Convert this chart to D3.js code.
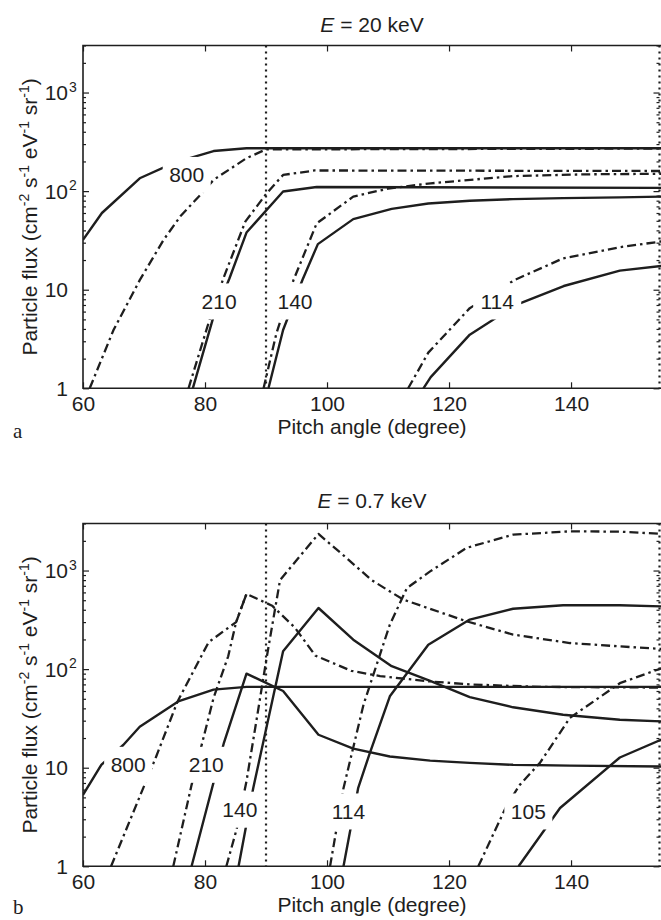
<!DOCTYPE html>
<html>
<head>
<meta charset="utf-8">
<script src="https://cdn.jsdelivr.net/npm/d3@7"></script>
<style>
  body { margin: 0; background: #fff; }
  svg { display: block; font-family: "Liberation Sans", Arial, Helvetica, sans-serif; }
</style>
</head>
<body>
<div id="chart"></div>
<script>
// axis ticks
var angleTicks = [60, 80, 100, 120, 140];
var fluxTicks = [1, 10, 100, 1000];

// panel a (E = 20 keV), points are [pitch angle, flux]
var a800Solid = [[60, 32], [63.1, 60], [69.3, 135], [75, 195], [81.4, 255], [86.8, 272], [155, 272]];
var a800Dash = [[61.1, 1], [65, 3.9], [69.3, 12.5], [73.2, 32], [76, 56], [79.2, 91], [81.4, 130], [86.8, 216], [90, 265], [155, 270]];
var a210Solid = [[78, 1], [81.3, 5.1], [84, 13], [86.8, 38], [92.8, 99], [98.3, 110], [155, 108]];
var a210Dash = [[77.3, 1], [80.8, 5.1], [83, 13], [86.6, 49], [90.1, 95], [92.8, 146], [98, 162], [155, 160]];
var a140Solid = [[90.4, 1], [92.8, 3.9], [96, 12.7], [98.5, 29], [104.3, 52], [110.6, 66], [116.6, 75], [123.4, 80], [130.5, 83], [138.7, 85], [148, 86.5], [155, 88]];
var a140Dash = [[89.6, 1], [91.7, 3.6], [94.5, 12.5], [98.3, 47], [104.3, 88], [110, 106], [117, 120], [130.5, 142], [142, 148], [155, 150]];
var a114Solid = [[115.8, 1], [117, 1.3], [123.4, 3.5], [131, 7], [138.8, 10.9], [148, 15.6], [155, 17.5]];
var a114Dash = [[113.3, 1], [116.6, 2.3], [123.4, 6.5], [130.8, 12.6], [138.7, 20.8], [148, 27], [155, 31]];
var aLabels = [["800", 77.0, 146], ["210", 82.3, 7.6], ["140", 94.75, 7.6], ["114", 127.9, 7.6]];

// panel b (E = 0.7 keV)
var b800Solid = [[60, 5.3], [63, 10.7], [66.6, 17], [69.3, 26], [75.6, 47], [81.4, 62], [86.8, 66], [155, 66]];
var b800Dash = [[64.6, 1], [72, 13], [75.5, 47], [80.6, 188], [85.1, 300], [86.8, 580], [91, 440], [94.7, 265], [98.1, 137], [104, 96], [108.7, 85], [116.9, 75], [123.4, 70], [135, 66], [155, 65]];
var b210Solid = [[77.8, 1], [83.1, 17.9], [86.8, 90], [92.8, 60], [98.6, 21.6], [104.3, 15.6], [110.3, 13], [116.9, 11.8], [123.4, 11.2], [130.5, 10.7], [139.8, 10.5], [155, 10.3]];
var b210Dash = [[74.8, 1], [77.8, 6.7], [81.4, 51], [83.8, 135], [85.1, 300], [86.8, 580]];
var b140Solid = [[85.5, 1], [87.9, 6.2], [92.8, 152], [98.6, 417], [104.3, 199], [110.6, 107], [116.9, 76], [123.4, 52], [130.5, 41], [138.7, 34.5], [148, 30.7], [155, 29.5]];
var b140Dash = [[83.5, 1], [85.2, 2.4], [86.8, 7.3], [88.5, 32], [90.1, 130], [92.3, 800], [98.6, 2350], [103.2, 1340], [107.3, 800], [112.5, 507], [122.9, 305], [130.5, 224], [139.8, 184], [148, 170], [155, 160]];
var b114Solid = [[102.7, 1], [105.1, 6.2], [107, 14], [110.3, 53], [116.6, 177], [123.4, 318], [130.5, 410], [138.7, 444], [148, 444], [155, 433]];
var b114Dash = [[100.5, 1], [102.7, 6.2], [106, 44], [107.6, 88], [110.3, 283], [113.1, 665], [116.9, 980], [122.9, 1700], [130.5, 2310], [139.8, 2500], [148, 2480], [155, 2350]];
var b105Solid = [[131.4, 1], [138.2, 3.9], [148, 12.7], [155, 19.5]];
var b105Dash = [[124.8, 1], [129.5, 4.2], [131.6, 6.7], [134.9, 11.2], [139.8, 32], [148, 72], [155, 103]];
var bLabels = [["800", 67.4, 10.7], ["210", 80.2, 10.7], ["140", 85.7, 3.75], ["114", 103.5, 3.6], ["105", 133.0, 3.6]];

var ink = "#1e1e1e";
var width = 661, height = 920;

var svg = d3.select("#chart").append("svg")
    .attr("width", width)
    .attr("height", height);

var x = d3.scaleLinear().domain([60, 154.5]).range([83, 659.5]);

function drawPanel(p) {
  var y = d3.scaleLog().domain([1, 3000]).range([p.bottom, p.top]);
  var g = svg.append("g");
  var clipId = "clip" + p.tag;

  g.append("clipPath").attr("id", clipId)
    .append("rect")
      .attr("x", x.range()[0]).attr("y", p.top)
      .attr("width", width - x.range()[0]).attr("height", p.bottom - p.top);

  var line = d3.line()
      .x(function(d) { return x(d[0]); })
      .y(function(d) { return y(d[1]); });

  var plot = g.append("g").attr("clip-path", "url(#" + clipId + ")");

  // curves
  plot.selectAll("path.curve")
      .data(p.series)
    .enter().append("path")
      .attr("class", "curve")
      .attr("d", function(d) { return line(d.pts); })
      .attr("fill", "none")
      .attr("stroke", ink)
      .attr("stroke-width", function(d) { return d.dash ? 2.3 : 2.4; })
      .attr("stroke-linejoin", "round")
      .attr("stroke-dasharray", function(d) { return d.dash ? "9,4,2.5,4" : null; });

  // dotted reference lines (90 deg and right edge)
  plot.selectAll("line.ref")
      .data([90, 154.5])
    .enter().append("line")
      .attr("class", "ref")
      .attr("x1", function(d) { return x(d); }).attr("x2", function(d) { return x(d); })
      .attr("y1", p.top).attr("y2", p.bottom)
      .attr("stroke", ink)
      .attr("stroke-width", 2.2)
      .attr("stroke-dasharray", "2,4");

  // curve labels, white box breaks the lines
  var lab = plot.selectAll("g.lab")
      .data(p.labels)
    .enter().append("g")
      .attr("class", "lab")
      .attr("transform", function(d) { return "translate(" + x(d[1]) + "," + y(d[2]) + ")"; });
  lab.append("rect")
      .attr("x", -24).attr("y", -18)
      .attr("width", 48).attr("height", 36)
      .attr("fill", "#fff");
  lab.append("text")
      .attr("text-anchor", "middle")
      .attr("dy", "0.36em")
      .style("font-size", "21px")
      .attr("fill", ink)
      .text(function(d) { return d[0]; });

  // axes
  var minor = [];
  [1, 10, 100, 1000].forEach(function(b) {
    for (var k = 2; k <= 9; k++) if (b * k <= 3000) minor.push(b * k);
  });

  g.append("g")
      .attr("transform", "translate(0," + p.bottom + ")")
      .call(d3.axisBottom(x).tickValues(angleTicks).tickSizeInner(-6).tickSizeOuter(0).tickPadding(8))
      .call(function(a) {
        a.select(".domain").remove();
        a.selectAll("text").style("font-size", "21px").attr("fill", ink);
      });
  g.append("g")
      .attr("transform", "translate(0," + p.top + ")")
      .call(d3.axisTop(x).tickValues(angleTicks).tickSizeInner(-6).tickSizeOuter(0).tickFormat(""))
      .call(function(a) { a.select(".domain").remove(); });

  g.append("g")
      .attr("transform", "translate(" + x.range()[0] + ",0)")
      .call(d3.axisLeft(y).tickValues(fluxTicks).tickSizeInner(-6).tickSizeOuter(0).tickFormat(""))
      .call(function(a) { a.select(".domain").remove(); });
  g.append("g")
      .attr("transform", "translate(" + x.range()[0] + ",0)")
      .call(d3.axisLeft(y).tickValues(minor).tickSizeInner(-3).tickSizeOuter(0).tickFormat(""))
      .call(function(a) { a.select(".domain").remove(); });
  g.append("g")
      .attr("transform", "translate(" + x.range()[1] + ",0)")
      .call(d3.axisRight(y).tickValues(fluxTicks).tickSizeInner(-6).tickSizeOuter(0).tickFormat(""))
      .call(function(a) { a.select(".domain").remove(); });
  g.append("g")
      .attr("transform", "translate(" + x.range()[1] + ",0)")
      .call(d3.axisRight(y).tickValues(minor).tickSizeInner(-3).tickSizeOuter(0).tickFormat(""))
      .call(function(a) { a.select(".domain").remove(); });
  g.selectAll(".tick line").attr("stroke", ink).attr("stroke-width", 1.2);

  // frame: left, top, bottom
  g.append("path")
      .attr("d", "M" + width + "," + p.top + "H" + x.range()[0] + "V" + p.bottom + "H" + width)
      .attr("fill", "none")
      .attr("stroke", ink)
      .attr("stroke-width", 1.6);

  // y tick labels: 1, 10, 10^2, 10^3
  var yl = g.selectAll("g.ylab")
      .data(fluxTicks)
    .enter().append("g")
      .attr("class", "ylab")
      .attr("transform", function(d) { return "translate(68," + y(d) + ")"; });
  yl.append("text")
      .attr("text-anchor", "end")
      .attr("dy", "0.36em")
      .style("font-size", "21px")
      .attr("fill", ink)
      .text(function(d) { return d < 100 ? String(d) : "10"; });
  yl.filter(function(d) { return d >= 100; }).append("text")
      .attr("x", 1)
      .attr("y", -1)
      .style("font-size", "14px")
      .attr("fill", ink)
      .text(function(d) { return String(Math.round(Math.log10(d))); });

  // titles
  var cx = (x.range()[0] + width) / 2;
  var t = g.append("text")
      .attr("x", cx).attr("y", p.titleY)
      .attr("text-anchor", "middle")
      .style("font-size", "21px")
      .attr("fill", ink);
  t.append("tspan").style("font-style", "italic").text("E");
  t.append("tspan").text(" = " + p.energy + " keV");

  g.append("text")
      .attr("x", cx).attr("y", p.xTitleY)
      .attr("text-anchor", "middle")
      .style("font-size", "21px")
      .attr("fill", ink)
      .text("Pitch angle (degree)");

  var yt = g.append("text")
      .attr("transform", "translate(37," + (p.top + p.bottom) / 2 + ") rotate(-90)")
      .attr("text-anchor", "middle")
      .style("font-size", "21px")
      .attr("fill", ink);
  [["Particle flux (cm", ""], ["-2", "sup"], [" s", ""], ["-1", "sup"], [" eV", ""], ["-1", "sup"], [" sr", ""], ["-1", "sup"], [")", ""]]
    .forEach(function(s, i, arr) {
      var ts = yt.append("tspan").text(s[0]);
      if (s[1] === "sup") ts.style("font-size", "14px").attr("dy", -8);
      else if (i > 0 && arr[i - 1][1] === "sup") ts.attr("dy", 8);
    });

  g.append("text")
      .attr("x", 13).attr("y", p.panelY)
      .style("font-family", "'Liberation Serif', 'DejaVu Serif', serif")
      .style("font-size", "21px")
      .attr("fill", ink)
      .text(p.tag);
}

function series(list) {
  return list.map(function(s) { return {pts: s[0], dash: s[1]}; });
}

drawPanel({
  tag: "a", energy: "20", top: 45.5, bottom: 388.3,
  titleY: 32, xTitleY: 434, panelY: 438,
  labels: aLabels,
  series: series([[a800Dash, true], [a800Solid, false], [a210Dash, true], [a210Solid, false],
                  [a140Dash, true], [a140Solid, false], [a114Dash, true], [a114Solid, false]])
});

drawPanel({
  tag: "b", energy: "0.7", top: 523.5, bottom: 866.3,
  titleY: 508, xTitleY: 912, panelY: 914,
  labels: bLabels,
  series: series([[b800Dash, true], [b800Solid, false], [b210Dash, true], [b210Solid, false],
                  [b140Dash, true], [b140Solid, false], [b114Dash, true], [b114Solid, false],
                  [b105Dash, true], [b105Solid, false]])
});
</script>
</body>
</html>
